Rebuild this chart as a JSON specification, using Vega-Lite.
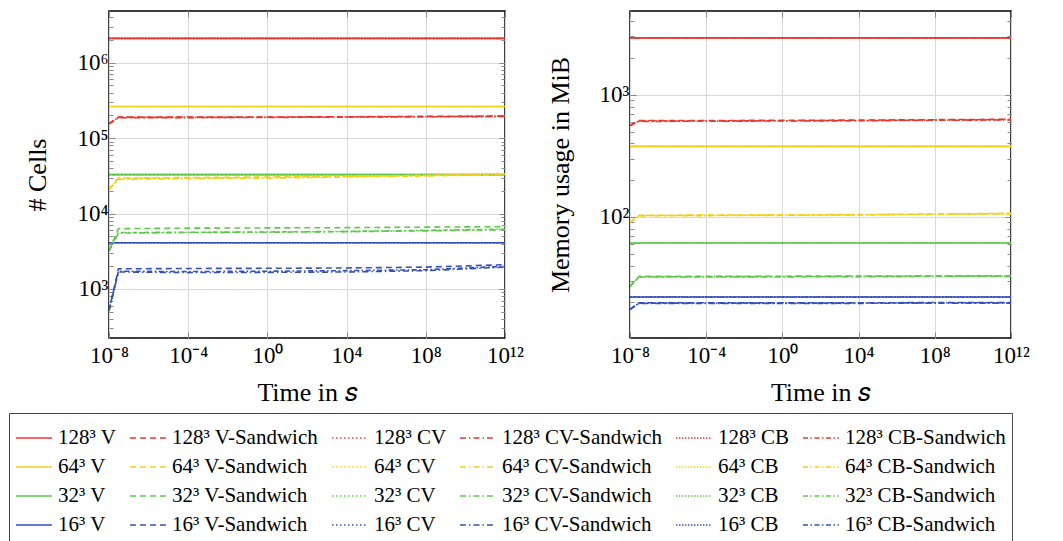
{
"$schema":"https://vega.github.io/schema/vega-lite/v6.json",
"padding":{"left":8,"top":5,"right":0,"bottom":0},
"spacing":21,
"config":{"view":{"stroke":"black","strokeWidth":1.5},
 "axis":{"labelFont":"Liberation Serif","labelFontSize":23,"labelColor":"black","titleFont":"Liberation Serif","titleFontSize":26,"titleFontWeight":"normal","titleColor":"black","domain":false,"tickColor":"#888","gridColor":"#d9d9d9","labelOverlap":false,"labelFlush":false}},
"datasets":{"d":[
{"p":"c","s":"128³ V","t":1e-8,"v":2097152},{"p":"c","s":"128³ V","t":1e12,"v":2097152},
{"p":"c","s":"128³ CV","t":1e-8,"v":2097152},{"p":"c","s":"128³ CV","t":1e12,"v":2097152},
{"p":"c","s":"128³ CB","t":1e-8,"v":2097152},{"p":"c","s":"128³ CB","t":1e12,"v":2097152},
{"p":"c","s":"64³ V","t":1e-8,"v":262144},{"p":"c","s":"64³ V","t":1e12,"v":262144},
{"p":"c","s":"64³ CV","t":1e-8,"v":262144},{"p":"c","s":"64³ CV","t":1e12,"v":262144},
{"p":"c","s":"64³ CB","t":1e-8,"v":262144},{"p":"c","s":"64³ CB","t":1e12,"v":262144},
{"p":"c","s":"32³ V","t":1e-8,"v":32768},{"p":"c","s":"32³ V","t":1e12,"v":32768},
{"p":"c","s":"32³ CV","t":1e-8,"v":32768},{"p":"c","s":"32³ CV","t":1e12,"v":32768},
{"p":"c","s":"32³ CB","t":1e-8,"v":32768},{"p":"c","s":"32³ CB","t":1e12,"v":32768},
{"p":"c","s":"16³ V","t":1e-8,"v":4096},{"p":"c","s":"16³ V","t":1e12,"v":4096},
{"p":"c","s":"16³ CV","t":1e-8,"v":4096},{"p":"c","s":"16³ CV","t":1e12,"v":4096},
{"p":"c","s":"16³ CB","t":1e-8,"v":4096},{"p":"c","s":"16³ CB","t":1e12,"v":4096},
{"p":"c","s":"128³ V-Sandwich","t":1e-8,"v":155000},{"p":"c","s":"128³ V-Sandwich","t":3e-8,"v":190000},{"p":"c","s":"128³ V-Sandwich","t":1e-4,"v":190000},{"p":"c","s":"128³ V-Sandwich","t":1,"v":190000},{"p":"c","s":"128³ V-Sandwich","t":1e4,"v":192000},{"p":"c","s":"128³ V-Sandwich","t":1e8,"v":194000},{"p":"c","s":"128³ V-Sandwich","t":1e12,"v":196000},
{"p":"c","s":"128³ CV-Sandwich","t":1e-8,"v":155000},{"p":"c","s":"128³ CV-Sandwich","t":3e-8,"v":186000},{"p":"c","s":"128³ CV-Sandwich","t":1e-4,"v":187000},{"p":"c","s":"128³ CV-Sandwich","t":1,"v":188000},{"p":"c","s":"128³ CV-Sandwich","t":1e4,"v":190000},{"p":"c","s":"128³ CV-Sandwich","t":1e8,"v":192000},{"p":"c","s":"128³ CV-Sandwich","t":1e12,"v":193000},
{"p":"c","s":"128³ CB-Sandwich","t":1e-8,"v":155000},{"p":"c","s":"128³ CB-Sandwich","t":3e-8,"v":188000},{"p":"c","s":"128³ CB-Sandwich","t":1e-4,"v":188000},{"p":"c","s":"128³ CB-Sandwich","t":1,"v":189000},{"p":"c","s":"128³ CB-Sandwich","t":1e4,"v":191000},{"p":"c","s":"128³ CB-Sandwich","t":1e8,"v":193000},{"p":"c","s":"128³ CB-Sandwich","t":1e12,"v":195000},
{"p":"c","s":"64³ V-Sandwich","t":1e-8,"v":21000},{"p":"c","s":"64³ V-Sandwich","t":3e-8,"v":29500},{"p":"c","s":"64³ V-Sandwich","t":1e-4,"v":30000},{"p":"c","s":"64³ V-Sandwich","t":1,"v":30500},{"p":"c","s":"64³ V-Sandwich","t":1e4,"v":31000},{"p":"c","s":"64³ V-Sandwich","t":1e8,"v":32000},{"p":"c","s":"64³ V-Sandwich","t":1e12,"v":33500},
{"p":"c","s":"64³ CV-Sandwich","t":1e-8,"v":21000},{"p":"c","s":"64³ CV-Sandwich","t":3e-8,"v":28500},{"p":"c","s":"64³ CV-Sandwich","t":1e-4,"v":29000},{"p":"c","s":"64³ CV-Sandwich","t":1,"v":29500},{"p":"c","s":"64³ CV-Sandwich","t":1e4,"v":30500},{"p":"c","s":"64³ CV-Sandwich","t":1e8,"v":31500},{"p":"c","s":"64³ CV-Sandwich","t":1e12,"v":33000},
{"p":"c","s":"64³ CB-Sandwich","t":1e-8,"v":21000},{"p":"c","s":"64³ CB-Sandwich","t":3e-8,"v":29000},{"p":"c","s":"64³ CB-Sandwich","t":1e-4,"v":29500},{"p":"c","s":"64³ CB-Sandwich","t":1,"v":30000},{"p":"c","s":"64³ CB-Sandwich","t":1e4,"v":31000},{"p":"c","s":"64³ CB-Sandwich","t":1e8,"v":32000},{"p":"c","s":"64³ CB-Sandwich","t":1e12,"v":33000},
{"p":"c","s":"32³ V-Sandwich","t":1e-8,"v":3200},{"p":"c","s":"32³ V-Sandwich","t":3e-8,"v":6300},{"p":"c","s":"32³ V-Sandwich","t":1e-4,"v":6400},{"p":"c","s":"32³ V-Sandwich","t":1,"v":6450},{"p":"c","s":"32³ V-Sandwich","t":1e4,"v":6500},{"p":"c","s":"32³ V-Sandwich","t":1e8,"v":6600},{"p":"c","s":"32³ V-Sandwich","t":1e12,"v":6700},
{"p":"c","s":"32³ CV-Sandwich","t":1e-8,"v":3200},{"p":"c","s":"32³ CV-Sandwich","t":3e-8,"v":5500},{"p":"c","s":"32³ CV-Sandwich","t":1e-4,"v":5600},{"p":"c","s":"32³ CV-Sandwich","t":1,"v":5650},{"p":"c","s":"32³ CV-Sandwich","t":1e4,"v":5750},{"p":"c","s":"32³ CV-Sandwich","t":1e8,"v":5900},{"p":"c","s":"32³ CV-Sandwich","t":1e12,"v":6100},
{"p":"c","s":"32³ CB-Sandwich","t":1e-8,"v":3200},{"p":"c","s":"32³ CB-Sandwich","t":3e-8,"v":5600},{"p":"c","s":"32³ CB-Sandwich","t":1e-4,"v":5650},{"p":"c","s":"32³ CB-Sandwich","t":1,"v":5700},{"p":"c","s":"32³ CB-Sandwich","t":1e4,"v":5800},{"p":"c","s":"32³ CB-Sandwich","t":1e8,"v":6000},{"p":"c","s":"32³ CB-Sandwich","t":1e12,"v":6200},
{"p":"c","s":"16³ V-Sandwich","t":1e-8,"v":520},{"p":"c","s":"16³ V-Sandwich","t":3e-8,"v":1850},{"p":"c","s":"16³ V-Sandwich","t":1e-4,"v":1870},{"p":"c","s":"16³ V-Sandwich","t":1,"v":1880},{"p":"c","s":"16³ V-Sandwich","t":1e4,"v":1900},{"p":"c","s":"16³ V-Sandwich","t":1e8,"v":1950},{"p":"c","s":"16³ V-Sandwich","t":1e12,"v":2100},
{"p":"c","s":"16³ CV-Sandwich","t":1e-8,"v":520},{"p":"c","s":"16³ CV-Sandwich","t":3e-8,"v":1680},{"p":"c","s":"16³ CV-Sandwich","t":1e-4,"v":1650},{"p":"c","s":"16³ CV-Sandwich","t":1,"v":1660},{"p":"c","s":"16³ CV-Sandwich","t":1e4,"v":1680},{"p":"c","s":"16³ CV-Sandwich","t":1e8,"v":1750},{"p":"c","s":"16³ CV-Sandwich","t":1e12,"v":1950},
{"p":"c","s":"16³ CB-Sandwich","t":1e-8,"v":520},{"p":"c","s":"16³ CB-Sandwich","t":3e-8,"v":1720},{"p":"c","s":"16³ CB-Sandwich","t":1e-4,"v":1700},{"p":"c","s":"16³ CB-Sandwich","t":1,"v":1720},{"p":"c","s":"16³ CB-Sandwich","t":1e4,"v":1750},{"p":"c","s":"16³ CB-Sandwich","t":1e8,"v":1800},{"p":"c","s":"16³ CB-Sandwich","t":1e12,"v":2000},
{"p":"m","s":"128³ V","t":1e-8,"v":2920},{"p":"m","s":"128³ V","t":1e12,"v":2920},
{"p":"m","s":"128³ CV","t":1e-8,"v":2920},{"p":"m","s":"128³ CV","t":1e12,"v":2920},
{"p":"m","s":"128³ CB","t":1e-8,"v":2920},{"p":"m","s":"128³ CB","t":1e12,"v":2920},
{"p":"m","s":"64³ V","t":1e-8,"v":378},{"p":"m","s":"64³ V","t":1e12,"v":378},
{"p":"m","s":"64³ CV","t":1e-8,"v":378},{"p":"m","s":"64³ CV","t":1e12,"v":378},
{"p":"m","s":"64³ CB","t":1e-8,"v":378},{"p":"m","s":"64³ CB","t":1e12,"v":378},
{"p":"m","s":"32³ V","t":1e-8,"v":61.2},{"p":"m","s":"32³ V","t":1e12,"v":61.2},
{"p":"m","s":"32³ CV","t":1e-8,"v":61.2},{"p":"m","s":"32³ CV","t":1e12,"v":61.2},
{"p":"m","s":"32³ CB","t":1e-8,"v":61.2},{"p":"m","s":"32³ CB","t":1e12,"v":61.2},
{"p":"m","s":"16³ V","t":1e-8,"v":22.1},{"p":"m","s":"16³ V","t":1e12,"v":22.1},
{"p":"m","s":"16³ CV","t":1e-8,"v":22.1},{"p":"m","s":"16³ CV","t":1e12,"v":22.1},
{"p":"m","s":"16³ CB","t":1e-8,"v":22.1},{"p":"m","s":"16³ CB","t":1e12,"v":22.1},
{"p":"m","s":"128³ V-Sandwich","t":1e-8,"v":560},{"p":"m","s":"128³ V-Sandwich","t":3e-8,"v":615},{"p":"m","s":"128³ V-Sandwich","t":1e-4,"v":615},{"p":"m","s":"128³ V-Sandwich","t":1,"v":618},{"p":"m","s":"128³ V-Sandwich","t":1e4,"v":620},{"p":"m","s":"128³ V-Sandwich","t":1e8,"v":625},{"p":"m","s":"128³ V-Sandwich","t":1e12,"v":630},
{"p":"m","s":"128³ CV-Sandwich","t":1e-8,"v":560},{"p":"m","s":"128³ CV-Sandwich","t":3e-8,"v":605},{"p":"m","s":"128³ CV-Sandwich","t":1e-4,"v":607},{"p":"m","s":"128³ CV-Sandwich","t":1,"v":610},{"p":"m","s":"128³ CV-Sandwich","t":1e4,"v":612},{"p":"m","s":"128³ CV-Sandwich","t":1e8,"v":618},{"p":"m","s":"128³ CV-Sandwich","t":1e12,"v":622},
{"p":"m","s":"128³ CB-Sandwich","t":1e-8,"v":560},{"p":"m","s":"128³ CB-Sandwich","t":3e-8,"v":610},{"p":"m","s":"128³ CB-Sandwich","t":1e-4,"v":610},{"p":"m","s":"128³ CB-Sandwich","t":1,"v":613},{"p":"m","s":"128³ CB-Sandwich","t":1e4,"v":616},{"p":"m","s":"128³ CB-Sandwich","t":1e8,"v":620},{"p":"m","s":"128³ CB-Sandwich","t":1e12,"v":626},
{"p":"m","s":"64³ V-Sandwich","t":1e-8,"v":90},{"p":"m","s":"64³ V-Sandwich","t":3e-8,"v":103},{"p":"m","s":"64³ V-Sandwich","t":1e-4,"v":103.5},{"p":"m","s":"64³ V-Sandwich","t":1,"v":104},{"p":"m","s":"64³ V-Sandwich","t":1e4,"v":104.5},{"p":"m","s":"64³ V-Sandwich","t":1e8,"v":105.5},{"p":"m","s":"64³ V-Sandwich","t":1e12,"v":107},
{"p":"m","s":"64³ CV-Sandwich","t":1e-8,"v":90},{"p":"m","s":"64³ CV-Sandwich","t":3e-8,"v":102},{"p":"m","s":"64³ CV-Sandwich","t":1e-4,"v":102.5},{"p":"m","s":"64³ CV-Sandwich","t":1,"v":103},{"p":"m","s":"64³ CV-Sandwich","t":1e4,"v":104},{"p":"m","s":"64³ CV-Sandwich","t":1e8,"v":105},{"p":"m","s":"64³ CV-Sandwich","t":1e12,"v":106},
{"p":"m","s":"64³ CB-Sandwich","t":1e-8,"v":90},{"p":"m","s":"64³ CB-Sandwich","t":3e-8,"v":102.5},{"p":"m","s":"64³ CB-Sandwich","t":1e-4,"v":103},{"p":"m","s":"64³ CB-Sandwich","t":1,"v":103.5},{"p":"m","s":"64³ CB-Sandwich","t":1e4,"v":104},{"p":"m","s":"64³ CB-Sandwich","t":1e8,"v":105},{"p":"m","s":"64³ CB-Sandwich","t":1e12,"v":106.5},
{"p":"m","s":"32³ V-Sandwich","t":1e-8,"v":27},{"p":"m","s":"32³ V-Sandwich","t":3e-8,"v":32.6},{"p":"m","s":"32³ V-Sandwich","t":1e-4,"v":32.6},{"p":"m","s":"32³ V-Sandwich","t":1,"v":32.7},{"p":"m","s":"32³ V-Sandwich","t":1e4,"v":32.8},{"p":"m","s":"32³ V-Sandwich","t":1e8,"v":32.9},{"p":"m","s":"32³ V-Sandwich","t":1e12,"v":33},
{"p":"m","s":"32³ CV-Sandwich","t":1e-8,"v":27},{"p":"m","s":"32³ CV-Sandwich","t":3e-8,"v":32.2},{"p":"m","s":"32³ CV-Sandwich","t":1e-4,"v":32.2},{"p":"m","s":"32³ CV-Sandwich","t":1,"v":32.3},{"p":"m","s":"32³ CV-Sandwich","t":1e4,"v":32.4},{"p":"m","s":"32³ CV-Sandwich","t":1e8,"v":32.5},{"p":"m","s":"32³ CV-Sandwich","t":1e12,"v":32.6},
{"p":"m","s":"32³ CB-Sandwich","t":1e-8,"v":27},{"p":"m","s":"32³ CB-Sandwich","t":3e-8,"v":32.4},{"p":"m","s":"32³ CB-Sandwich","t":1e-4,"v":32.4},{"p":"m","s":"32³ CB-Sandwich","t":1,"v":32.5},{"p":"m","s":"32³ CB-Sandwich","t":1e4,"v":32.6},{"p":"m","s":"32³ CB-Sandwich","t":1e8,"v":32.7},{"p":"m","s":"32³ CB-Sandwich","t":1e12,"v":32.8},
{"p":"m","s":"16³ V-Sandwich","t":1e-8,"v":17.5},{"p":"m","s":"16³ V-Sandwich","t":3e-8,"v":19.8},{"p":"m","s":"16³ V-Sandwich","t":1e-4,"v":19.8},{"p":"m","s":"16³ V-Sandwich","t":1,"v":19.8},{"p":"m","s":"16³ V-Sandwich","t":1e4,"v":19.8},{"p":"m","s":"16³ V-Sandwich","t":1e8,"v":19.9},{"p":"m","s":"16³ V-Sandwich","t":1e12,"v":19.9},
{"p":"m","s":"16³ CV-Sandwich","t":1e-8,"v":17.5},{"p":"m","s":"16³ CV-Sandwich","t":3e-8,"v":19.6},{"p":"m","s":"16³ CV-Sandwich","t":1e-4,"v":19.6},{"p":"m","s":"16³ CV-Sandwich","t":1,"v":19.6},{"p":"m","s":"16³ CV-Sandwich","t":1e4,"v":19.6},{"p":"m","s":"16³ CV-Sandwich","t":1e8,"v":19.7},{"p":"m","s":"16³ CV-Sandwich","t":1e12,"v":19.7},
{"p":"m","s":"16³ CB-Sandwich","t":1e-8,"v":17.5},{"p":"m","s":"16³ CB-Sandwich","t":3e-8,"v":19.7},{"p":"m","s":"16³ CB-Sandwich","t":1e-4,"v":19.7},{"p":"m","s":"16³ CB-Sandwich","t":1,"v":19.7},{"p":"m","s":"16³ CB-Sandwich","t":1e4,"v":19.7},{"p":"m","s":"16³ CB-Sandwich","t":1e8,"v":19.8},{"p":"m","s":"16³ CB-Sandwich","t":1e12,"v":19.8}
]},
"data":{"name":"d"},
"hconcat":[
{"width":396,"height":327,
 "transform":[{"filter":"datum.p=='c'"}],
 "layer":[
  {"mark":{"type":"line","strokeWidth":1.6,"clip":true},
   "encoding":{
    "x":{"field":"t","type":"quantitative","scale":{"type":"log","domain":[1e-8,1e12],"nice":false},
      "axis":{"orient":"bottom","title":"Time in 𝑠","values":[1e-8,1e-4,1,1e4,1e8,1e12],"tickSize":-6,"labelPadding":12,"titlePadding":12,
        "labelExpr":"'10' + (datum.value < 1e-6 ? '⁻⁸' : datum.value < 1e-2 ? '⁻⁴' : datum.value < 10 ? '⁰' : datum.value < 1e6 ? '⁴' : datum.value < 1e10 ? '⁸' : '¹²')"}},
    "y":{"field":"v","type":"quantitative","scale":{"type":"log","domain":[224,4840000],"nice":false},
      "axis":{"orient":"left","title":"# Cells","titlePadding":26,"labelPadding":7,
        "values":[300,400,500,600,700,800,900,1000,2000,3000,4000,5000,6000,7000,8000,9000,10000,20000,30000,40000,50000,60000,70000,80000,90000,100000,200000,300000,400000,500000,600000,700000,800000,900000,1000000,2000000,3000000,4000000],
        "tickSize":{"condition":{"test":"abs(log(datum.value)/LN10 - round(log(datum.value)/LN10)) < 0.001","value":-6},"value":-4},
        "gridOpacity":{"condition":{"test":"abs(log(datum.value)/LN10 - round(log(datum.value)/LN10)) < 0.001","value":1},"value":0},
        "labelExpr":"abs(log(datum.value)/LN10 - round(log(datum.value)/LN10)) < 0.001 ? '10' + ['⁰','¹','²','³','⁴','⁵','⁶','⁷'][round(log(datum.value)/LN10)] : ''"}},
    "color":{"field":"s","type":"nominal","sort":null,
      "scale":{"domain":["128³ V","128³ V-Sandwich","128³ CV","128³ CV-Sandwich","128³ CB","128³ CB-Sandwich","64³ V","64³ V-Sandwich","64³ CV","64³ CV-Sandwich","64³ CB","64³ CB-Sandwich","32³ V","32³ V-Sandwich","32³ CV","32³ CV-Sandwich","32³ CB","32³ CB-Sandwich","16³ V","16³ V-Sandwich","16³ CV","16³ CV-Sandwich","16³ CB","16³ CB-Sandwich"],
        "range":["#e8392e","#e8392e","#e8392e","#e8392e","#e8392e","#e8392e","#f2d11c","#f2d11c","#f2d11c","#f2d11c","#f2d11c","#f2d11c","#5cc94a","#5cc94a","#5cc94a","#5cc94a","#5cc94a","#5cc94a","#3550b8","#3550b8","#3550b8","#3550b8","#3550b8","#3550b8"]},
      "legend":{"title":null,"orient":"none","legendX":-100,"legendY":402,"direction":"horizontal","columns":6,"symbolType":"stroke","symbolSize":1300,"symbolStrokeWidth":1.6,"labelFont":"Liberation Serif","labelFontSize":21,"labelColor":"black","columnPadding":9,"rowPadding":0,"strokeColor":"#444","padding":6,"labelOffset":5,"labelLimit":0}},
    "strokeDash":{"field":"s","type":"nominal","sort":null,
      "scale":{"domain":["128³ V","128³ V-Sandwich","128³ CV","128³ CV-Sandwich","128³ CB","128³ CB-Sandwich","64³ V","64³ V-Sandwich","64³ CV","64³ CV-Sandwich","64³ CB","64³ CB-Sandwich","32³ V","32³ V-Sandwich","32³ CV","32³ CV-Sandwich","32³ CB","32³ CB-Sandwich","16³ V","16³ V-Sandwich","16³ CV","16³ CV-Sandwich","16³ CB","16³ CB-Sandwich"],
        "range":[[1,0],[6,4],[1.5,2.5],[6,3,1.5,3],[1.5,1.5],[5,2.5,1.5,2.5],[1,0],[6,4],[1.5,2.5],[6,3,1.5,3],[1.5,1.5],[5,2.5,1.5,2.5],[1,0],[6,4],[1.5,2.5],[6,3,1.5,3],[1.5,1.5],[5,2.5,1.5,2.5],[1,0],[6,4],[1.5,2.5],[6,3,1.5,3],[1.5,1.5],[5,2.5,1.5,2.5]]},
      "legend":{"title":null,"orient":"none","legendX":-100,"legendY":402,"direction":"horizontal","columns":6,"symbolType":"stroke","symbolSize":1300,"symbolStrokeWidth":1.6,"labelFont":"Liberation Serif","labelFontSize":21,"labelColor":"black","columnPadding":9,"rowPadding":0,"strokeColor":"#444","padding":6,"labelOffset":5,"labelLimit":0}}
   }},
  {"mark":{"type":"line","opacity":0},
   "encoding":{
    "x":{"field":"t","type":"quantitative","scale":{"type":"log","domain":[1e-8,1e12],"nice":false},
      "axis":{"orient":"top","title":null,"labels":false,"grid":false,"values":[1e-8,1e-4,1,1e4,1e8,1e12],"tickSize":-6}},
    "y":{"field":"v","type":"quantitative","scale":{"type":"log","domain":[224,4840000],"nice":false},
      "axis":{"orient":"right","title":null,"labels":false,"grid":false,
        "values":[300,400,500,600,700,800,900,1000,2000,3000,4000,5000,6000,7000,8000,9000,10000,20000,30000,40000,50000,60000,70000,80000,90000,100000,200000,300000,400000,500000,600000,700000,800000,900000,1000000,2000000,3000000,4000000],
        "tickSize":{"condition":{"test":"abs(log(datum.value)/LN10 - round(log(datum.value)/LN10)) < 0.001","value":-6},"value":-4}}},
    "detail":{"field":"s"}
   }}
 ]},
{"width":381,"height":327,
 "transform":[{"filter":"datum.p=='m'"}],
 "layer":[
  {"mark":{"type":"line","strokeWidth":1.6,"clip":true},
   "encoding":{
    "x":{"field":"t","type":"quantitative","scale":{"type":"log","domain":[1e-8,1e12],"nice":false},
      "axis":{"orient":"bottom","title":"Time in 𝑠","values":[1e-8,1e-4,1,1e4,1e8,1e12],"tickSize":-6,"labelPadding":12,"titlePadding":12,
        "labelExpr":"'10' + (datum.value < 1e-6 ? '⁻⁸' : datum.value < 1e-2 ? '⁻⁴' : datum.value < 10 ? '⁰' : datum.value < 1e6 ? '⁴' : datum.value < 1e10 ? '⁸' : '¹²')"}},
    "y":{"field":"v","type":"quantitative","scale":{"type":"log","domain":[10.2,4850],"nice":false},
      "axis":{"orient":"left","title":"Memory usage in MiB","titlePadding":26,"labelPadding":7,
        "values":[20,30,40,50,60,70,80,90,100,200,300,400,500,600,700,800,900,1000,2000,3000,4000],
        "tickSize":{"condition":{"test":"abs(log(datum.value)/LN10 - round(log(datum.value)/LN10)) < 0.001","value":-6},"value":-4},
        "gridOpacity":{"condition":{"test":"abs(log(datum.value)/LN10 - round(log(datum.value)/LN10)) < 0.001","value":1},"value":0},
        "labelExpr":"abs(log(datum.value)/LN10 - round(log(datum.value)/LN10)) < 0.001 ? '10' + ['⁰','¹','²','³','⁴','⁵','⁶','⁷'][round(log(datum.value)/LN10)] : ''"}},
    "color":{"field":"s","type":"nominal","sort":null,
      "scale":{"domain":["128³ V","128³ V-Sandwich","128³ CV","128³ CV-Sandwich","128³ CB","128³ CB-Sandwich","64³ V","64³ V-Sandwich","64³ CV","64³ CV-Sandwich","64³ CB","64³ CB-Sandwich","32³ V","32³ V-Sandwich","32³ CV","32³ CV-Sandwich","32³ CB","32³ CB-Sandwich","16³ V","16³ V-Sandwich","16³ CV","16³ CV-Sandwich","16³ CB","16³ CB-Sandwich"],
        "range":["#e8392e","#e8392e","#e8392e","#e8392e","#e8392e","#e8392e","#f2d11c","#f2d11c","#f2d11c","#f2d11c","#f2d11c","#f2d11c","#5cc94a","#5cc94a","#5cc94a","#5cc94a","#5cc94a","#5cc94a","#3550b8","#3550b8","#3550b8","#3550b8","#3550b8","#3550b8"]},
      "legend":{"title":null,"orient":"none","legendX":-100,"legendY":402,"direction":"horizontal","columns":6,"symbolType":"stroke","symbolSize":1300,"symbolStrokeWidth":1.6,"labelFont":"Liberation Serif","labelFontSize":21,"labelColor":"black","columnPadding":9,"rowPadding":0,"strokeColor":"#444","padding":6,"labelOffset":5,"labelLimit":0}},
    "strokeDash":{"field":"s","type":"nominal","sort":null,
      "scale":{"domain":["128³ V","128³ V-Sandwich","128³ CV","128³ CV-Sandwich","128³ CB","128³ CB-Sandwich","64³ V","64³ V-Sandwich","64³ CV","64³ CV-Sandwich","64³ CB","64³ CB-Sandwich","32³ V","32³ V-Sandwich","32³ CV","32³ CV-Sandwich","32³ CB","32³ CB-Sandwich","16³ V","16³ V-Sandwich","16³ CV","16³ CV-Sandwich","16³ CB","16³ CB-Sandwich"],
        "range":[[1,0],[6,4],[1.5,2.5],[6,3,1.5,3],[1.5,1.5],[5,2.5,1.5,2.5],[1,0],[6,4],[1.5,2.5],[6,3,1.5,3],[1.5,1.5],[5,2.5,1.5,2.5],[1,0],[6,4],[1.5,2.5],[6,3,1.5,3],[1.5,1.5],[5,2.5,1.5,2.5],[1,0],[6,4],[1.5,2.5],[6,3,1.5,3],[1.5,1.5],[5,2.5,1.5,2.5]]},
      "legend":{"title":null,"orient":"none","legendX":-100,"legendY":402,"direction":"horizontal","columns":6,"symbolType":"stroke","symbolSize":1300,"symbolStrokeWidth":1.6,"labelFont":"Liberation Serif","labelFontSize":21,"labelColor":"black","columnPadding":9,"rowPadding":0,"strokeColor":"#444","padding":6,"labelOffset":5,"labelLimit":0}}
   }},
  {"mark":{"type":"line","opacity":0},
   "encoding":{
    "x":{"field":"t","type":"quantitative","scale":{"type":"log","domain":[1e-8,1e12],"nice":false},
      "axis":{"orient":"top","title":null,"labels":false,"grid":false,"values":[1e-8,1e-4,1,1e4,1e8,1e12],"tickSize":-6}},
    "y":{"field":"v","type":"quantitative","scale":{"type":"log","domain":[10.2,4850],"nice":false},
      "axis":{"orient":"right","title":null,"labels":false,"grid":false,
        "values":[20,30,40,50,60,70,80,90,100,200,300,400,500,600,700,800,900,1000,2000,3000,4000],
        "tickSize":{"condition":{"test":"abs(log(datum.value)/LN10 - round(log(datum.value)/LN10)) < 0.001","value":-6},"value":-4}}},
    "detail":{"field":"s"}
   }}
 ]}
]
}
